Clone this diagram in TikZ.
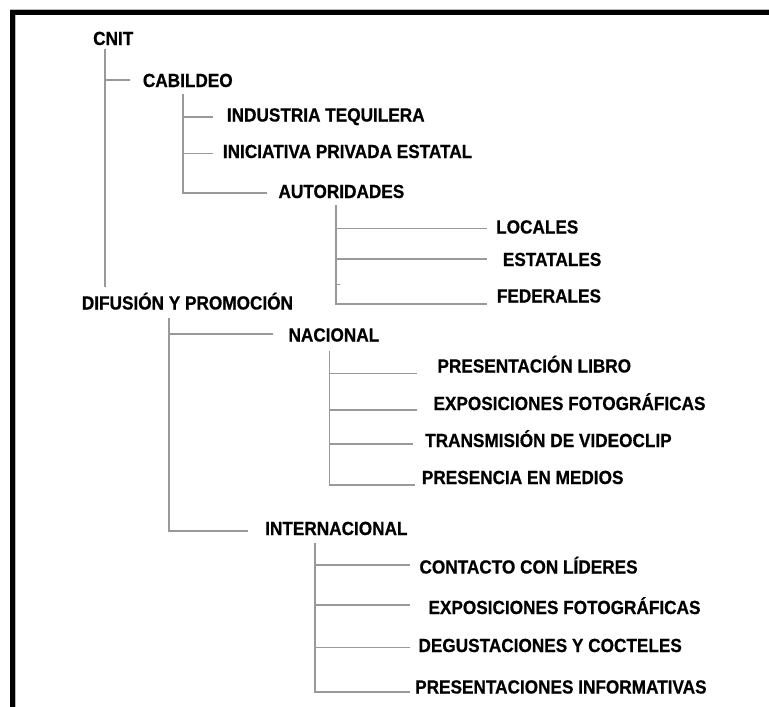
\documentclass[tikz,border=0pt]{standalone}
\usepackage{fontspec}
\newfontfamily\lblfont{Liberation Sans}[FakeStretch=0.905,FakeBold=0.6]
\definecolor{linkgray}{HTML}{999999}
\begin{document}
\begin{tikzpicture}[x=1pt,y=-1pt,
  lbl/.style={anchor=base west,inner sep=0pt,font=\lblfont\fontsize{19}{21}\selectfont\bfseries},
  link/.style={draw=linkgray,line width=1.6pt}]
\useasboundingbox (0,0) rectangle (769,707);
% frame
\fill[black] (10,10) rectangle (769,15);
\fill[black] (10,10) rectangle (15,707);
\draw[gray!55,line width=0.8pt] (10,9.4) -- (769,9.4);
\draw[gray!55,line width=0.8pt] (15.6,15) -- (15.6,707);

% texts
\node[lbl] (cnit) at (93,45) {CNIT};
\node[lbl] (cab) at (142.7,87) {CABILDEO};
\node[lbl] (ind) at (226.7,121.5) {INDUSTRIA TEQUILERA};
\node[lbl] (ini) at (222.7,158) {INICIATIVA PRIVADA ESTATAL};
\node[lbl] (aut) at (278.3,198) {AUTORIDADES};
\node[lbl] (loc) at (496,233.5) {LOCALES};
\node[lbl] (est) at (502.7,266) {ESTATALES};
\node[lbl] (fed) at (496.7,302.5) {FEDERALES};
\node[lbl] (dif) at (81.7,309.5) {DIFUSIÓN Y PROMOCIÓN};
\node[lbl] (nac) at (288.3,341.5) {NACIONAL};
\node[lbl] (pl) at (437.3,372.5) {PRESENTACIÓN LIBRO};
\node[lbl] (ef) at (433.3,410) {EXPOSICIONES FOTOGRÁFICAS};
\node[lbl] (tv) at (425,447) {TRANSMISIÓN DE VIDEOCLIP};
\node[lbl] (pm) at (421.7,484) {PRESENCIA EN MEDIOS};
\node[lbl] (int) at (265,535) {INTERNACIONAL};
\node[lbl] (cl) at (419.3,573.5) {CONTACTO CON LÍDERES};
\node[lbl] (ef2) at (428.3,614) {EXPOSICIONES FOTOGRÁFICAS};
\node[lbl] (dc) at (418.3,652) {DEGUSTACIONES Y COCTELES};
\node[lbl] (pi) at (415,693.5) {PRESENTACIONES INFORMATIVAS};

% connector coordinates
\coordinate (cnit-t) at (105,49);
\coordinate (dif-t) at (105,287);
\coordinate (cab-e) at (130,80);

\coordinate (cab-t) at (182.7,94.3);
\coordinate (ind-e) at (213,116.7);
\coordinate (ini-e) at (213,153.3);
\coordinate (aut-e) at (266.7,192.7);

\coordinate (aut-t) at (336,205);
\coordinate (loc-e) at (486.7,228.3);
\coordinate (est-e) at (486.7,259);
\coordinate (tick) at (340,284.3);
\coordinate (fed-e) at (486.7,304);

\coordinate (dif-v) at (169,318.3);
\coordinate (nac-e) at (273.3,334);
\coordinate (int-e) at (248.3,530.7);

\coordinate (nac-t) at (329.3,350.7);
\coordinate (pl-e) at (416.7,373.3);
\coordinate (ef-e) at (416.7,410);
\coordinate (tv-e) at (413.3,444);
\coordinate (pm-e) at (415,485);

\coordinate (int-t) at (315,542.7);
\coordinate (cl-e) at (410,565);
\coordinate (ef2-e) at (410,605);
\coordinate (dc-e) at (410,647.3);
\coordinate (pi-e) at (410,691.7);

% connectors
\draw[link] (cnit-t) -- (dif-t);
\draw[link] (cnit-t |- cab-e) -- (cab-e);

\draw[link] (cab-t) |- (aut-e);
\draw[link] (cab-t |- ind-e) -- (ind-e);
\draw[link] (cab-t |- ini-e) -- (ini-e);

\draw[link] (aut-t) |- (fed-e);
\draw[link] (aut-t |- loc-e) -- (loc-e);
\draw[link] (aut-t |- est-e) -- (est-e);
\draw[link] (aut-t |- tick) -- (tick);

\draw[link] (dif-v) |- (int-e);
\draw[link] (dif-v |- nac-e) -- (nac-e);

\draw[link] (nac-t) |- (pm-e);
\draw[link] (nac-t |- pl-e) -- (pl-e);
\draw[link] (nac-t |- ef-e) -- (ef-e);
\draw[link] (nac-t |- tv-e) -- (tv-e);

\draw[link] (int-t) |- (pi-e);
\draw[link] (int-t |- cl-e) -- (cl-e);
\draw[link] (int-t |- ef2-e) -- (ef2-e);
\draw[link] (int-t |- dc-e) -- (dc-e);
\end{tikzpicture}
\end{document}
